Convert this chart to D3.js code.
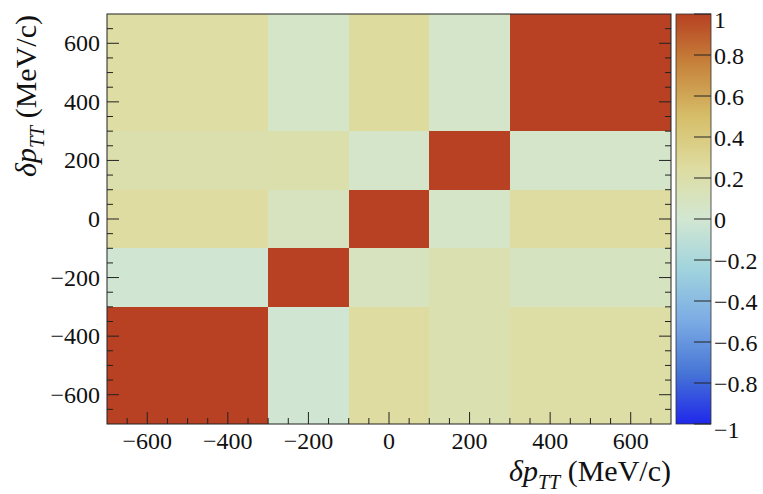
<!DOCTYPE html>
<html>
<head>
<meta charset="utf-8">
<script src="https://cdn.jsdelivr.net/npm/d3@7"></script>
<style>
  html, body { margin: 0; padding: 0; background: #fff; }
  svg { display: block; }
</style>
</head>
<body>
<svg id="chart" width="763" height="494"></svg>
<script>
// Bin edges of the delta p_TT unfolding bins (MeV/c)
const xEdges = [-700, -300, -100, 100, 300, 700];
const yEdges = [-700, -300, -100, 100, 300, 700];

// Correlation coefficients, one array per y bin (bottom to top), columns follow xEdges
const rowY0 = [1.00, -0.01, 0.25, 0.17, 0.22];
const rowY1 = [-0.01, 1.00, 0.10, 0.17, 0.09];
const rowY2 = [0.25, 0.10, 1.00, 0.05, 0.25];
const rowY3 = [0.18, 0.19, 0.04, 1.00, 0.04];
const rowY4 = [0.23, 0.05, 0.26, 0.04, 1.00];
const corrRows = [rowY0, rowY1, rowY2, rowY3, rowY4];

// Axis ticks
const axisTicks = [-600, -400, -200, 0, 200, 400, 600];
const zTicks = [-1, -0.8, -0.6, -0.4, -0.2, 0, 0.2, 0.4, 0.6, 0.8, 1];

// Light-temperature palette stops
const paletteStops = [
  [31, 40, 234], [71, 117, 214], [123, 171, 228], [160, 211, 222],
  [210, 231, 210], [222, 220, 160], [214, 190, 105], [199, 132, 60], [183, 65, 34]
];

const FONT = "'Liberation Serif', 'Times New Roman', Times, 'DejaVu Serif', serif";

const svg = d3.select("#chart");
const frame = { left: 107, right: 671, top: 14, bottom: 424 };
const bar = { left: 676, right: 711 };

const x = d3.scaleLinear().domain([-700, 700]).range([frame.left, frame.right]);
const y = d3.scaleLinear().domain([-700, 700]).range([frame.bottom, frame.top]);
const zDomain = paletteStops.map((_, i) => -1 + 2 * i / (paletteStops.length - 1));
const color = d3.scaleLinear()
  .domain(zDomain)
  .range(paletteStops.map(c => d3.rgb(c[0], c[1], c[2])))
  .interpolate(d3.interpolateRgb)
  .clamp(true);
const z = d3.scaleLinear().domain([-1, 1]).range([frame.bottom, frame.top]);

// Cells
const cells = [];
corrRows.forEach((row, j) => row.forEach((v, i) => {
  cells.push({ x0: xEdges[i], x1: xEdges[i + 1], y0: yEdges[j], y1: yEdges[j + 1], v });
}));
svg.append("g").selectAll("rect").data(cells).join("rect")
  .attr("x", d => x(d.x0))
  .attr("y", d => y(d.y1))
  .attr("width", d => x(d.x1) - x(d.x0))
  .attr("height", d => y(d.y0) - y(d.y1))
  .attr("fill", d => color(d.v))
  .attr("shape-rendering", "crispEdges");

// Ticks: major every 200, minor every 50, drawn inward
const minor = d3.range(-650, 700, 50).filter(v => v % 200 !== 0);
const tickG = svg.append("g").attr("stroke", "#222").attr("stroke-width", 1);
const majLen = 12, minLen = 6;
function tickSet(vals, len) {
  vals.forEach(v => {
    tickG.append("line").attr("x1", x(v)).attr("x2", x(v))
      .attr("y1", frame.bottom).attr("y2", frame.bottom - len);
    tickG.append("line").attr("y1", y(v)).attr("y2", y(v))
      .attr("x1", frame.left).attr("x2", frame.left + len);
    tickG.append("line").attr("y1", y(v)).attr("y2", y(v))
      .attr("x1", frame.right).attr("x2", frame.right - len);
  });
}
tickSet(axisTicks, majLen);
tickSet(minor, minLen);

// Frame
svg.append("rect")
  .attr("x", frame.left).attr("y", frame.top)
  .attr("width", frame.right - frame.left).attr("height", frame.bottom - frame.top)
  .attr("fill", "none").attr("stroke", "#222").attr("stroke-width", 1);

// Tick labels
const fmt = v => (v < 0 ? "\u2212" + Math.abs(v) : String(v));
svg.append("g").selectAll("text").data(axisTicks).join("text")
  .attr("x", d => x(d)).attr("y", 449)
  .attr("text-anchor", "middle").attr("font-size", 24)
  .attr("font-family", FONT).attr("fill", "#111")
  .text(fmt);
svg.append("g").selectAll("text").data(axisTicks).join("text")
  .attr("x", frame.left - 7).attr("y", d => y(d) + 8)
  .attr("text-anchor", "end").attr("font-size", 24)
  .attr("font-family", FONT).attr("fill", "#111")
  .text(fmt);

// Axis titles
function title(sel) {
  sel.append("tspan").attr("font-style", "italic").text("\u03B4p");
  sel.append("tspan").attr("font-style", "italic").attr("font-size", 20).attr("dy", 8).text("TT");
  sel.append("tspan").attr("dy", -8).text(" (MeV/c)");
}
svg.append("text").attr("x", frame.right).attr("y", 481)
  .attr("text-anchor", "end").attr("font-size", 30)
  .attr("font-family", FONT).attr("fill", "#111").call(title);
svg.append("text")
  .attr("transform", `translate(36,${frame.top + 1}) rotate(-90)`)
  .attr("text-anchor", "end").attr("font-size", 30)
  .attr("font-family", FONT).attr("fill", "#111").call(title);

// Colour bar
const grad = svg.append("defs").append("linearGradient")
  .attr("id", "zgrad").attr("x1", 0).attr("y1", 1).attr("x2", 0).attr("y2", 0);
zDomain.forEach(v => grad.append("stop")
  .attr("offset", (v + 1) / 2).attr("stop-color", color(v)));
svg.append("rect")
  .attr("x", bar.left).attr("y", z(1))
  .attr("width", bar.right - bar.left).attr("height", z(-1) - z(1))
  .attr("fill", "url(#zgrad)").attr("stroke", "#333").attr("stroke-width", 0.8);
svg.append("g").attr("stroke", "#222").selectAll("line").data(zTicks).join("line")
  .attr("x1", bar.right - 17).attr("x2", bar.right)
  .attr("y1", d => z(d)).attr("y2", d => z(d));
svg.append("g").selectAll("text").data(zTicks).join("text")
  .attr("x", bar.right + 3)
  .attr("y", d => z(d) + (Math.abs(d) === 1 ? 14 : 9))
  .attr("font-size", 24)
  .attr("font-family", FONT).attr("fill", "#111")
  .text(d => (d < 0 ? "\u2212" + Math.abs(d) : String(d)));
</script>
</body>
</html>
